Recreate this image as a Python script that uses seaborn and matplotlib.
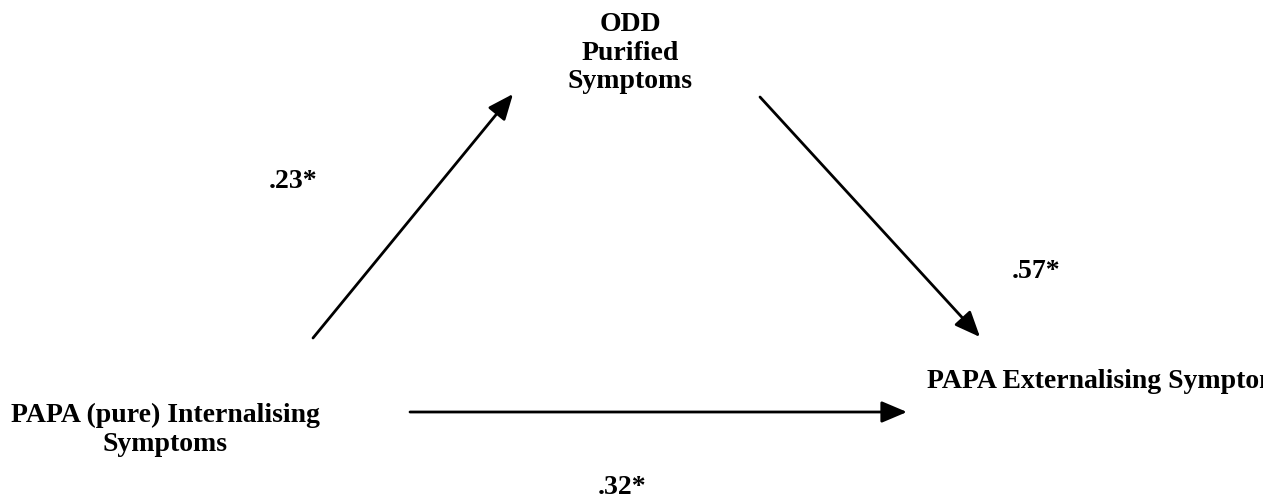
import matplotlib
matplotlib.use("Agg")
import matplotlib.pyplot as plt
import seaborn as sns

# === diagram content ===
NODE_LABELS = ["ODD\nPurified\nSymptoms",
               "PAPA (pure) Internalising\nSymptoms",
               "PAPA Externalising Symptoms"]
PATHS = [(1, 0), (0, 2), (1, 2)]          # (from node, to node)
PATH_COEFS = [".23*", ".57*", ".32*"]

# === layout (pixel coords, y down) ===
W, H = 1263, 501
NODE_POS = [(630, 53, "center"), (165, 430, "center"), (927, 382, "left")]
ARROW_POS = [((313, 338), (513, 94)),
             ((760, 97), (980, 337)),
             ((410, 412), (907, 412))]
COEF_POS = [(293, 182), (1036, 272), (622, 487)]
FONT_SIZE = 20

sns.set_theme(style="white")
plt.rcParams["font.family"] = ["Liberation Serif", "DejaVu Serif"]

fig = plt.figure(figsize=(W / 100, H / 100), dpi=100)
ax = fig.add_axes([0, 0, 1, 1])
ax.set_xlim(0, W)
ax.set_ylim(H, 0)
ax.axis("off")

# node labels (no frames, just text); the right one runs off the page as in the source
for label, (x, y, ha) in zip(NODE_LABELS, NODE_POS):
    ax.text(x, y, label, ha=ha, va="center", fontsize=FONT_SIZE, fontweight="bold",
            color="black", linespacing=1.2, clip_on=False)

# arrows between nodes
for (start, end) in ARROW_POS:
    ax.annotate("", xy=end, xytext=start,
                arrowprops=dict(arrowstyle="-|>,head_length=1.3,head_width=0.55",
                                color="black", lw=2, shrinkA=0, shrinkB=0))

# path coefficients
for coef, (x, y) in zip(PATH_COEFS, COEF_POS):
    ax.text(x, y, coef, ha="center", va="center", fontsize=FONT_SIZE,
            fontweight="bold", color="black")

fig.savefig("out.png", dpi=100, facecolor="white")
